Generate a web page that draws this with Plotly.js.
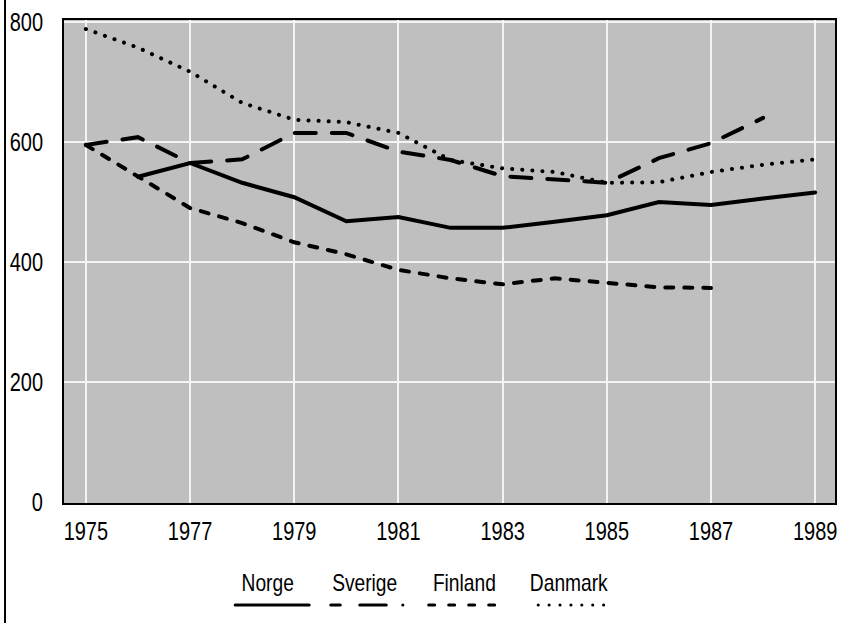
<!DOCTYPE html>
<html>
<head>
<meta charset="utf-8">
<script src="https://cdn.plot.ly/plotly-3.0.1.min.js"></script>
<style>html,body{margin:0;padding:0;background:#fff;}#chart{width:867px;height:623px;}
#chart .scatterlayer path.js-line{stroke-linecap:round !important;}
#chart .shapelayer path{stroke-linecap:round;}</style>
</head>
<body>
<div id="chart"></div>
<script>
var years = [1975,1976,1977,1978,1979,1980,1981,1982,1983,1984,1985,1986,1987,1988,1989];
var norge   = [null,542,565,532,508,468,475,457,457,467,478,500,495,506,516];
var sverige = [595,608,565,571,615,615,584,570,543,537,532,573,598,640,null];
var finland = [595,542,490,465,433,413,387,373,363,373,365,358,357,null,null];
var danmark = [788,757,717,665,637,633,615,570,556,550,532,533,550,562,571];
var seriesNames = ['Norge','Sverige','Finland','Danmark'];
var xTicks = [1975,1977,1979,1981,1983,1985,1987,1989];
var yTicks = [0,200,400,600,800];

var FONT = 'Liberation Sans, Arial, sans-serif';
var FS = 25;
var dashes = ['solid','21px,16px','8px,11px','0.1px,10px'];
var allData = [norge, sverige, finland, danmark];

var traces = allData.map(function(d,i){
  return {x: years, y: d, type:'scatter', mode:'lines', name: seriesNames[i],
    connectgaps:false, line:{color:'#000', width:4, dash:dashes[i]}, showlegend:false};
});

// custom legend: text above line sample
var legText = [0.264, 0.390, 0.519, 0.655];
var legX = [[0.222,0.318],[0.346,0.440],[0.473,0.566],[0.615,0.702]];
var legDash = ['solid','9.5px,19.5px,26.5px,16.5px,0.1px,100px','6px,14px','0.1px,10.8px'];
var shapes = [];
var annotations = [];
seriesNames.forEach(function(n,i){
  annotations.push({xref:'paper', yref:'paper', x:legText[i], y:-0.165, text:n, showarrow:false,
    xanchor:'center', yanchor:'middle', font:{family:FONT, size:24, color:'#000'}});
  shapes.push({type:'line', xref:'paper', yref:'paper', x0:legX[i][0], x1:legX[i][1], y0:-0.211, y1:-0.211,
    line:{color:'#000', width:3, dash:legDash[i]}});
});
// left frame line
shapes.push({type:'line', xref:'paper', yref:'paper', x0:-0.0765, x1:-0.0765, y0:-0.26, y1:1.06,
  line:{color:'#000', width:2}});

var layout = {
  width:867, height:623,
  margin:{l:64, r:32, t:20, b:120},
  paper_bgcolor:'#fff', plot_bgcolor:'#bfbfbf',
  font:{family:FONT, size:FS, color:'#000'},
  xaxis:{range:[1974.58,1989.38], tickvals:xTicks, ticktext:xTicks.map(String), showgrid:true,
    gridcolor:'#f4f4f4', gridwidth:2, zeroline:false, showline:true, mirror:true, linecolor:'#000', linewidth:2,
    ticks:'', ticklabelstandoff:5, tickfont:{family:FONT, size:FS}},
  yaxis:{range:[-1,803], tickvals:yTicks, ticktext:yTicks.map(String), showgrid:true,
    gridcolor:'#f4f4f4', gridwidth:2, zeroline:false, showline:true, mirror:true, linecolor:'#000', linewidth:2,
    ticks:'', ticklabelstandoff:14, tickfont:{family:FONT, size:FS}},
  shapes:shapes, annotations:annotations, showlegend:false
};

// condense text horizontally (narrow typeface look), scaling about each text's anchor point
function condense(gd, s){
  var texts = gd.querySelectorAll('svg text');
  texts.forEach(function(el){
    if(!el.textContent) return;
    var bb = el.getBBox();
    var anchor = el.getAttribute('text-anchor') || 'start';
    var ax = anchor === 'end' ? bb.x + bb.width : (anchor === 'middle' ? bb.x + bb.width/2 : bb.x);
    var t = el.getAttribute('transform') || '';
    el.setAttribute('transform', t + ' translate(' + ax + ',0) scale(' + s + ',1) translate(' + (-ax) + ',0)');
  });
}
Plotly.newPlot('chart', traces, layout, {staticPlot:true, displayModeBar:false}).then(function(gd){
  condense(gd, 0.8);
});
</script>
</body>
</html>
